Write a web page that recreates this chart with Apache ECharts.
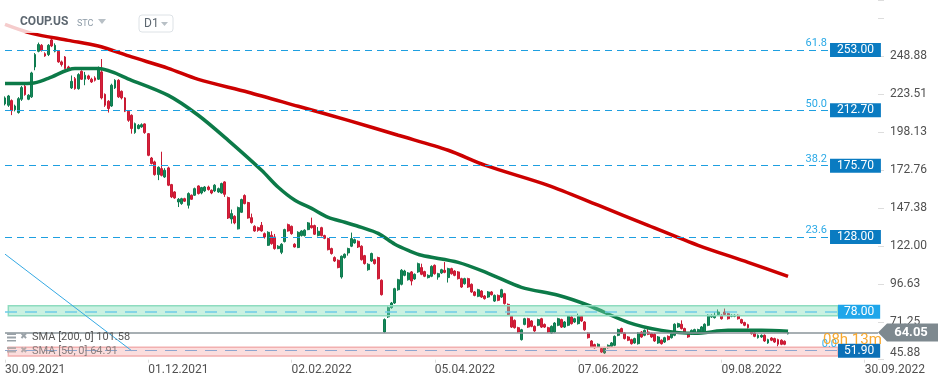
<!DOCTYPE html>
<html><head><meta charset="utf-8">
<script src="https://cdn.jsdelivr.net/npm/echarts/dist/echarts.min.js"></script>
<style>html,body{margin:0;padding:0;background:#fff}#c{width:949px;height:384px}</style>
</head><body><div id="c"></div>
<script>
// ---- data (daily candles, COUP.US) ----
const opens=[217.0,216.1,219.2,213.0,211.2,220.1,228.8,220.1,221.7,241.7,252.2,256.2,250.6,250.0,259.8,252.2,252.2,245.1,248.4,241.7,
227.7,233.9,227.2,238.8,233.5,235.7,233.5,234.4,233.5,238.4,223.4,218.8,215.6,227.7,232.8,225.4,221.0,212.1,209.4,197.8,
200.5,201.6,203.6,197.1,180.8,178.2,169.7,173.7,168.1,174.2,163.0,158.1,151.4,150.3,153.6,149.2,155.9,155.9,162.1,157.4,
158.8,161.4,159.2,158.8,158.1,157.4,164.8,154.3,140.0,141.8,133.4,144.5,155.7,151.0,140.9,135.1,134.2,135.8,130.2,122.4,
129.1,128.0,120.2,117.7,124.9,136.2,135.1,123.1,120.9,128.9,128.9,132.9,135.6,135.6,128.9,134.2,128.9,126.9,120.2,114.2,
112.4,101.2,114.2,117.3,121.8,124.0,125.1,121.8,115.5,106.1,111.9,112.8,114.2,99.0,64.4,74.5,80.7,83.8,92.7,96.3,
102.3,99.4,104.6,99.9,104.6,107.5,104.8,100.8,101.7,109.0,101.2,103.9,105.7,100.8,106.8,105.2,104.6,100.1,96.7,100.1,
96.3,91.2,88.3,91.8,88.5,87.8,91.2,85.1,88.9,87.8,90.0,82.9,74.9,72.2,67.3,59.3,69.5,73.3,71.8,68.2,
68.9,73.3,69.5,67.3,63.7,64.4,68.9,72.7,67.7,68.9,74.5,71.1,70.0,74.9,71.1,63.7,58.4,56.0,54.4,53.3,
50.4,53.9,54.8,55.5,62.2,66.7,63.8,61.1,59.3,57.1,56.6,64.4,62.2,64.4,63.3,62.9,57.1,58.9,57.7,61.5,
60.6,62.2,67.8,69.6,66.7,63.3,63.3,63.8,63.3,63.8,64.4,68.9,74.5,74.0,76.2,75.6,77.8,76.7,74.9,74.9,
75.6,72.7,70.7,69.3,64.4,63.8,60.6,61.1,62.2,57.1,60.4,60.0,59.3,58.9,58.2,63.2];
const closes=[221.0,222.3,212.5,215.6,220.5,227.9,223.2,222.8,237.7,250.0,256.7,252.7,249.1,256.2,255.8,256.2,245.1,243.3,240.6,239.9,
232.1,227.2,236.6,233.5,236.2,233.9,231.7,232.8,241.1,221.0,216.1,213.9,229.5,232.8,221.7,221.0,212.1,206.0,200.5,203.8,
202.7,203.1,197.8,182.6,177.1,169.7,174.6,169.2,172.6,162.6,154.8,154.1,153.2,153.6,151.9,157.0,153.2,160.3,157.0,161.0,
161.4,159.7,157.4,162.6,160.3,163.7,156.5,140.7,143.6,137.4,147.6,153.0,150.3,140.7,137.6,132.0,132.5,132.0,128.0,131.1,
123.5,120.2,121.8,123.1,132.9,132.0,130.2,121.3,131.1,132.0,132.5,137.4,134.2,129.8,131.8,128.9,127.1,119.5,116.9,111.9,
107.5,115.1,116.4,120.2,126.9,126.2,121.3,112.8,110.2,109.7,116.9,110.2,100.1,89.4,72.7,80.7,83.8,93.4,99.4,105.7,
105.2,103.9,98.5,103.0,110.1,103.0,101.7,102.3,108.3,103.4,103.4,106.1,104.3,106.8,103.4,102.3,100.1,94.5,100.1,94.5,
91.2,88.9,92.7,87.8,86.7,91.2,89.4,88.9,85.6,92.7,83.4,76.2,67.7,67.3,64.4,65.9,73.3,67.7,68.2,65.1,
72.7,67.7,67.7,64.4,68.2,70.4,73.3,67.7,71.1,74.9,70.0,73.3,74.9,71.8,65.9,60.6,54.4,53.9,56.2,51.0,
53.9,55.5,57.1,61.5,66.0,63.8,60.0,58.9,56.6,60.0,63.8,61.1,65.5,62.9,61.1,58.4,61.1,56.6,60.6,59.3,
63.3,69.6,70.0,66.7,64.4,61.1,65.5,66.0,66.0,67.8,69.6,75.6,75.6,75.6,77.8,73.3,76.2,73.3,75.6,75.6,
73.3,70.4,68.9,67.3,63.3,61.5,62.2,62.2,58.4,59.3,58.9,57.7,56.2,56.2,56.2,64.05];
const lows=[216.0,215.0,209.5,212.0,210.5,219.0,222.5,219.5,221.0,239.5,251.5,252.0,248.5,249.0,255.0,251.5,244.5,242.0,240.0,239.0,
227.0,226.5,226.5,233.0,229.5,233.0,231.0,232.0,233.0,220.0,215.0,211.2,215.0,227.0,221.0,220.0,211.5,205.0,197.1,197.0,
200.0,201.0,197.0,182.0,176.5,169.0,166.0,168.5,167.5,162.0,154.0,153.5,148.0,149.5,151.4,147.0,152.8,155.4,156.4,156.5,
158.0,159.0,156.6,158.0,157.5,157.0,154.8,140.0,136.9,136.5,133.0,144.0,149.8,140.2,136.9,131.5,131.5,131.5,126.9,122.0,
122.8,119.5,119.8,116.5,124.3,131.5,129.5,120.9,120.5,128.3,128.3,132.5,133.6,129.3,128.3,128.3,126.5,119.0,116.2,111.3,
107.0,100.1,113.5,115.5,121.2,123.5,120.6,112.2,109.5,105.4,111.3,109.5,99.5,88.8,63.8,73.8,80.0,83.2,92.0,95.6,
101.7,98.8,95.6,99.3,104.0,102.4,101.1,100.2,101.1,102.8,99.4,103.3,103.7,97.5,102.8,101.7,99.5,93.9,96.1,93.9,
90.6,88.3,87.7,87.2,86.1,87.2,88.8,84.5,85.0,87.2,82.8,75.6,67.1,66.7,63.8,58.7,68.9,67.1,67.6,64.5,
68.3,67.1,67.1,63.8,63.1,63.8,68.3,67.1,67.1,68.3,69.4,70.5,69.4,71.2,65.3,60.0,53.8,53.3,53.8,50.4,
49.8,53.3,54.2,54.9,61.6,63.2,59.4,58.3,56.0,56.5,56.0,60.5,61.6,62.3,60.5,57.8,56.5,56.0,57.1,58.7,
60.0,61.6,67.2,66.1,63.8,60.5,62.7,63.2,62.7,63.2,63.8,68.3,73.9,73.4,75.6,72.7,75.6,72.7,74.3,74.3,
72.7,69.8,68.3,66.7,62.7,60.9,60.0,60.5,57.8,56.5,58.3,57.1,54.8,55.6,55.6,62.8];
const highs=[222.0,223.0,220.0,216.5,221.5,229.0,230.0,223.5,238.5,251.0,258.0,257.0,251.5,257.0,260.5,257.5,253.0,246.0,249.0,242.5,
236.0,235.0,237.5,239.5,238.4,236.5,234.5,235.5,242.0,247.0,224.0,219.5,230.5,233.5,233.5,226.0,221.5,212.5,210.0,204.5,
203.5,204.0,204.0,197.5,181.5,179.0,175.2,185.0,174.0,175.0,163.5,158.6,154.0,154.2,154.2,157.8,156.4,161.0,162.5,161.5,
162.0,162.3,159.8,163.3,161.0,164.3,165.3,155.0,146.3,142.5,148.3,153.6,156.5,151.5,143.6,135.8,134.9,138.0,131.0,131.8,
131.8,130.0,122.5,123.8,133.5,136.9,135.6,123.8,131.8,132.5,133.1,138.0,140.9,136.2,134.6,134.8,129.5,127.5,120.8,115.0,
113.0,115.6,117.0,120.8,130.9,126.9,125.7,122.4,116.0,110.4,117.5,113.4,114.8,99.6,73.5,81.5,84.5,94.0,100.0,106.5,
106.0,104.5,105.2,103.6,110.8,110.1,105.4,103.0,109.0,109.6,104.0,106.7,111.2,107.4,107.4,105.8,105.2,100.7,100.7,100.7,
96.9,91.8,93.3,92.4,89.1,91.8,91.8,89.5,89.5,93.3,90.6,83.5,75.5,72.8,67.9,66.5,73.9,73.9,72.4,68.8,
73.3,73.9,70.1,67.9,68.8,71.0,73.9,73.3,71.7,75.5,75.1,73.9,76.7,75.5,71.7,64.3,59.0,56.6,56.8,53.9,
54.5,56.1,57.7,62.1,66.6,67.3,64.4,61.7,59.9,60.6,64.4,65.0,66.1,66.7,63.9,63.5,61.7,59.5,61.2,62.1,
63.9,70.2,70.6,72.2,67.3,63.9,66.1,66.6,66.6,68.4,70.2,76.2,76.2,77.8,79.5,76.2,80.1,77.3,76.2,76.2,
76.2,73.3,71.3,69.9,65.0,64.4,62.8,62.8,62.8,59.9,61.0,60.6,59.9,59.5,58.8,65.0];
// moving averages: [candle index, value]
const sma200=[[0,270.2],[8,264.2],[19,259.5],[28,255.7],[38,248.4],[49,240.8],[58,233.4],[73,224.8],[88,215.4],[103,206.0],
[118,196.0],[133,186.0],[144,176.0],[163,162.5],[178,149.2],[193,135.8],[208,122.4],[223,111.0],[235,101.6]];
const sma50=[[0,230.6],[8,230.8],[13,234.1],[21,240.6],[28,240.6],[38,232.8],[49,222.7],[58,209.4],[67,192.6],[77,172.6],
[82,161.2],[87,152.5],[92,147.1],[97,141.1],[102,137.8],[107,134.4],[112,130.4],[117,123.1],[121,119.0],[125,115.7],
[136,111.0],[145,103.7],[155,94.3],[166,89.0],[175,82.3],[187,70.9],[197,65.5],[207,63.5],[217,65.5],[227,65.5],[235,64.9]];
const trendLine=[[0,116.5],[38,51.9]];
// axes
const nSlots=263;
const xTickStep=43;
const xTickLabels=['30.09.2021','01.12.2021','02.02.2022','05.04.2022','07.06.2022','09.08.2022','30.09.2022'];
const yMin=45.88, yStep=25.375, yMax=286.5;
const yTickLabels=['45.88','71.25','96.63','122.00','147.38','172.76','198.13','223.51','248.88'];
// levels
const fibNames=['61.8','50.0','38.2','23.6'];
const fibPrices=[253.00,212.70,175.70,128.00];
const greenZone=[75.3,82.0], greenLevel=78.00;
const redZone=[48.3,54.2], redLevel=51.90, redLevelName='0.0';
const lastPrice=64.05;
const smaLegend=['SMA [200, 0] 101.58','SMA [50, 0] 64.91'];

const cats=Array.from({length:nSlots},(_,i)=>String(i));
const candles=opens.map((o,i)=>[o,closes[i],lows[i],highs[i]]);
const FIB_END=247, ZONE_END=250;
const HIDDEN={color:'rgba(0,0,0,0)',width:1,type:'solid'};

const ml=[];
fibPrices.forEach((p,k)=>{
  ml.push([{coord:[0,p],lineStyle:{color:'#1e9fe0',width:1,type:[7,5]},
            label:{show:true,position:'insideEndTop',formatter:fibNames[k],color:'#2aa9e6',fontSize:11,distance:1}},
           {coord:[FIB_END,p]}]);
  ml.push([{coord:[FIB_END-1,p],lineStyle:HIDDEN,
            label:{show:true,position:'end',distance:2,formatter:p.toFixed(2),color:'#fff',fontSize:12,
                   backgroundColor:'#0a7bc1',padding:[1,7,1,7]}},
           {coord:[FIB_END,p]}]);
});
ml.push([{coord:[0,greenLevel],lineStyle:{color:'#6fcbe8',width:1.5,type:[12,8]},label:{show:false}},{coord:[ZONE_END,greenLevel]}]);
ml.push([{coord:[ZONE_END-1,greenLevel],lineStyle:HIDDEN,
          label:{show:true,position:'end',distance:0,formatter:greenLevel.toFixed(2),color:'#fff',fontSize:12,
                 backgroundColor:'#1fa6ea',padding:[1,6,1,6]}},{coord:[ZONE_END,greenLevel]}]);
ml.push([{coord:[0,redLevel],lineStyle:{color:'#8ea6cf',width:1.2,type:[12,8]},
          label:{show:true,position:'insideEndTop',formatter:redLevelName,color:'#3aaee8',fontSize:11,distance:1}},{coord:[ZONE_END,redLevel]}]);
ml.push([{coord:[ZONE_END-1,redLevel],lineStyle:HIDDEN,
          label:{show:true,position:'end',distance:0,formatter:redLevel.toFixed(2),color:'#fff',fontSize:12,
                 backgroundColor:'#0b70b7',padding:[1,6,1,6]}},{coord:[ZONE_END,redLevel]}]);
ml.push([{coord:[0,lastPrice],lineStyle:{color:'#8a949a',width:1.5,type:'solid'},label:{show:false}},{coord:[nSlots-1,lastPrice]}]);

const chart=echarts.init(document.getElementById('c'),null,{renderer:'canvas'});
chart.setOption({
  animation:false,
  textStyle:{fontFamily:'Roboto'},
  grid:{left:5,right:71,top:0,bottom:24.3},
  xAxis:{type:'category',data:cats,boundaryGap:false,
    axisLine:{show:false},
    axisTick:{show:true,length:3,interval:i=>i%xTickStep===0,lineStyle:{color:'#ddd'}},
    axisLabel:{interval:i=>i%xTickStep===0,align:'left',margin:4,color:'#505050',fontSize:12,
      formatter:(v,i)=>xTickLabels[i/xTickStep]||''},
    splitLine:{show:false}},
  yAxis:{type:'value',position:'right',min:yMin,max:yMax,interval:yStep,
    splitLine:{show:false},axisLine:{show:false},
    axisTick:{show:true,length:6,lineStyle:{color:'#ddd'}},
    axisLabel:{margin:12,color:'#505050',fontSize:12,
      formatter:v=>{const k=Math.round((v-yMin)/yStep);
        if(k<0||k>=yTickLabels.length||Math.abs(v-(yMin+k*yStep))>0.01) return '';
        return k===0?'{lo|'+yTickLabels[0]+'}':yTickLabels[k];},
      rich:{lo:{padding:[0,0,13,0],fontSize:12,color:'#505050'}}}},
  series:[
    {type:'candlestick',data:candles,barWidth:'72%',z:2,
      itemStyle:{color:'#15895b',color0:'#d81f3b',borderColor:'#0f7b4f',borderColor0:'#c81a33',borderWidth:1}},
    {type:'line',data:sma200,symbol:'none',smooth:0.3,z:3,lineStyle:{color:'#cc0000',width:3.5}},
    {type:'line',data:sma50,symbol:'none',smooth:0.3,z:3,lineStyle:{color:'#0c7a48',width:3.5}},
    {type:'line',data:trendLine,symbol:'none',z:4,lineStyle:{color:'#35a9e3',width:1},
      markArea:{silent:true,z:4,data:[
        [{coord:[1,greenZone[0]],itemStyle:{color:'rgba(120,220,180,0.4)',borderColor:'#8ddcbf',borderWidth:1.5}},{coord:[ZONE_END,greenZone[1]]}],
        [{coord:[1,redZone[0]],itemStyle:{color:'rgba(240,120,120,0.25)',borderColor:'#f2b0b0',borderWidth:1.5}},{coord:[ZONE_END,redZone[1]]}]
      ]},
      markLine:{silent:true,symbol:['none','none'],z:5,data:ml},
      markPoint:{silent:true,z:6,data:[{coord:[nSlots-1,lastPrice]}],
        symbol:'path://M0,9L9,0L60,0L60,18L9,18Z',symbolSize:[60,18],symbolKeepAspect:false,symbolOffset:[30,0],
        itemStyle:{color:'#7e898f'},
        label:{show:true,position:'inside',formatter:lastPrice.toFixed(2),color:'#fff',fontSize:13,fontWeight:'bold',offset:[3,0]}}}
  ],
  graphic:[
    {type:'rect',left:0,top:0,z:100,shape:{width:185,height:33},style:{fill:'rgba(255,255,255,0.8)'}},
    {type:'text',x:20,y:22,z:101,style:{text:'COUP.US',font:'bold 12px Roboto',fill:'#5d6770',textVerticalAlign:'middle'}},
    {type:'text',x:77,y:24,z:101,style:{text:'STC',font:'9px Roboto',fill:'#8c9aa6',textVerticalAlign:'middle'}},
    {type:'polygon',z:101,shape:{points:[[98,19],[106,19],[102,24]]},style:{fill:'#b8c0c6'}},
    {type:'rect',z:101,shape:{x:139,y:15,width:34,height:17,r:3},style:{fill:'#fff',stroke:'#dde2e6'}},
    {type:'text',x:144,y:24,z:102,style:{text:'D1',font:'12px Roboto',fill:'#5d6770',textVerticalAlign:'middle'}},
    {type:'polygon',z:102,shape:{points:[[161,22],[168,22],[164.5,26]]},style:{fill:'#b8c0c6'}},
    {type:'text',x:823,y:340,z:101,style:{text:'08h 13m',font:'15px Roboto',fill:'rgba(247,160,25,0.9)',textVerticalAlign:'middle'}},
    {type:'group',z:101,children:[
      {type:'rect',z:101,shape:{x:7,y:333,width:9,height:2},style:{fill:'#9aa2a8'}},
      {type:'rect',z:101,shape:{x:7,y:336.5,width:9,height:2},style:{fill:'#9aa2a8'}},
      {type:'rect',z:101,shape:{x:7,y:340,width:9,height:1.5},style:{fill:'#9aa2a8'}},
      {type:'text',x:20,y:337,z:101,style:{text:'✖',font:'9px DejaVu Sans',fill:'#9aa2a8',textVerticalAlign:'middle'}},
      {type:'text',x:32,y:337.5,z:101,style:{text:smaLegend[0],font:'11px Roboto',fill:'#555',textVerticalAlign:'middle'}},
      {type:'rect',z:101,shape:{x:7,y:347,width:9,height:2},style:{fill:'#b5a9a9'}},
      {type:'rect',z:101,shape:{x:7,y:350.5,width:9,height:2},style:{fill:'#b5a9a9'}},
      {type:'text',x:20,y:351,z:101,style:{text:'✖',font:'9px DejaVu Sans',fill:'#b5a9a9',textVerticalAlign:'middle'}},
      {type:'text',x:32,y:351.5,z:101,style:{text:smaLegend[1],font:'11px Roboto',fill:'#8a7f7f',textVerticalAlign:'middle'}}
    ]}
  ]
});
</script></body></html>
